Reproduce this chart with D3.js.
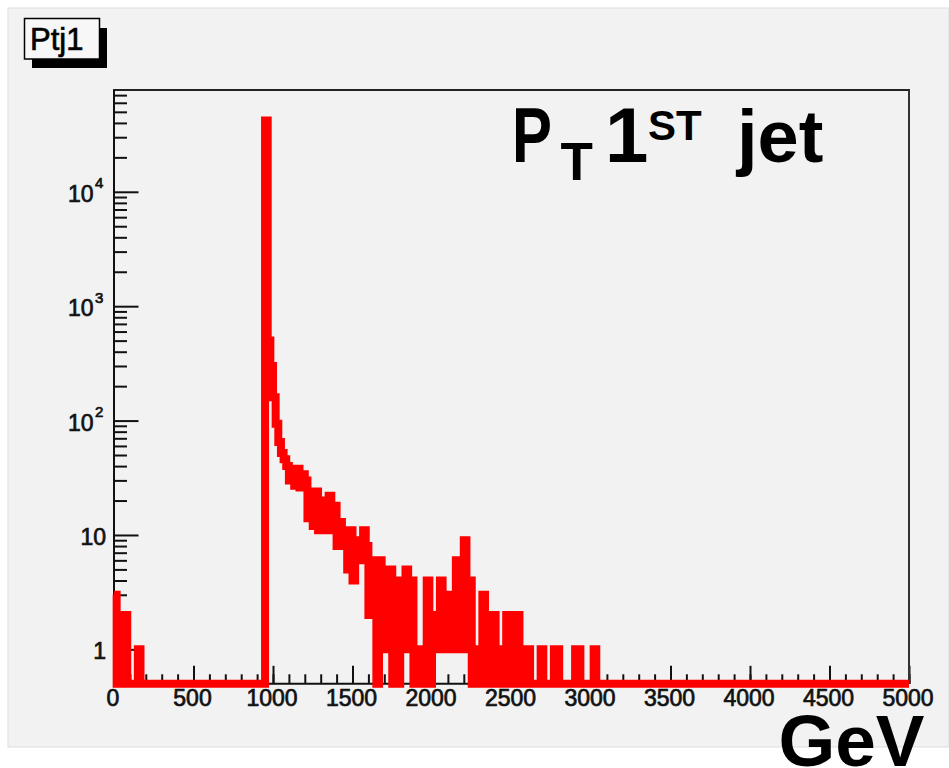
<!DOCTYPE html>
<html>
<head>
<meta charset="utf-8">
<script src="https://cdn.jsdelivr.net/npm/d3@7"></script>
<style>
  body { margin: 0; background: #ffffff; }
  svg { display: block; }
  text { font-family: "Liberation Sans", Arial, Helvetica, sans-serif; }
  .lab { stroke: #111; stroke-width: 0.7px; paint-order: stroke; }
</style>
</head>
<body>
<div id="chart"></div>
<script>
// histogram: 300 bins of 16.67 GeV between 0 and 5000 GeV
var xMin = 0, xMax = 5000, nBins = 300;

// counts of the first bins (starting at bin 0)
var lowStart = 0;
var lowCounts = [3, 0, 2, 0, 2, 0, 0, 0, 0, 1];

// counts from bin 57 (950 GeV) onwards, everything else is empty
var peakStart = 57;
var peakCounts = [
  42000, 500, 300, 160, 94, 65, 52, 46, 40, 30,
  36, 27, 38, 26, 34, 30, 14, 24, 12, 24,
  11, 20, 11, 20, 22, 11, 18, 8, 13, 8,
  11, 5, 11, 4, 9, 6, 6, 11, 8, 2,
  6, 6, 0, 6, 1, 5, 1, 5, 0, 4,
  0, 2, 1, 5, 1, 4, 0, 1, 0, 0,
  0, 4, 0, 2, 1, 1, 4, 1, 3, 1,
  3, 1, 6, 1, 5, 9, 1, 4, 0, 0,
  1, 0, 3, 0, 1, 0, 2, 0, 1, 0,
  0, 2, 0, 2, 0, 2, 0, 0, 0, 1,
  0, 0, 0, 0, 1, 0, 0, 0, 0, 1,
  1, 0, 0, 0, 0, 0, 0, 1, 1, 0,
  0, 0, 0, 0, 1
];

var yMin = 0.5, yMax = 77600;

var xTickLabels = [0, 500, 1000, 1500, 2000, 2500, 3000, 3500, 4000, 4500, 5000];
var yTickLabels = [1, 10, 100, 1000, 10000];

var svgWidth = 949;
var svgHeight = 768;

var frame = { left: 114, right: 909, top: 90, bottom: 683.8 };

var svg = d3.select("#chart")
  .append("svg")
  .attr("width", svgWidth)
  .attr("height", svgHeight);

// canvas / pad
svg.append("rect")
  .attr("x", 8).attr("y", 8)
  .attr("width", svgWidth - 8).attr("height", 739)
  .attr("fill", "#f2f2f2")
  .attr("stroke", "#dddddd")
  .attr("stroke-width", 1);

var x = d3.scaleLinear()
  .domain([xMin, xMax])
  .range([frame.left, frame.right]);

var y = d3.scaleLog()
  .domain([yMin, yMax])
  .range([frame.bottom, frame.top]);

// axes (ticks point into the frame)
var minorX = d3.range(xMin, xMax + 1, 100);
var majorY = yTickLabels.concat([]);
var minorY = [];
[-1, 0, 1, 2, 3, 4].forEach(function(e) {
  for (var m = 2; m <= 9; m++) {
    var v = m * Math.pow(10, e);
    if (v >= yMin && v <= yMax) minorY.push(v);
  }
});

function styleAxis(g) {
  g.select(".domain").remove();
  g.selectAll("line").attr("stroke", "#111").attr("stroke-width", 2);
}

svg.append("g")
  .attr("transform", `translate(0, ${frame.bottom})`)
  .call(d3.axisBottom(x).tickValues(minorX).tickSize(-9.5).tickFormat(""))
  .call(styleAxis);

var xAxis = svg.append("g")
  .attr("transform", `translate(0, ${frame.bottom})`)
  .call(d3.axisBottom(x).tickValues(xTickLabels).tickSize(-18).tickPadding(6).tickFormat(d3.format("d")))
  .call(styleAxis);

xAxis.selectAll("text")
  .attr("class", "lab")
  .attr("fill", "#111")
  .attr("dx", -1.5)
  .style("font-size", "23px")
  .style("font-family", "'Liberation Sans', Arial, sans-serif");

svg.append("g")
  .attr("transform", `translate(${frame.left}, 0)`)
  .call(d3.axisLeft(y).tickValues(minorY).tickSize(-13).tickFormat(""))
  .call(styleAxis);

svg.append("g")
  .attr("transform", `translate(${frame.left}, 0)`)
  .call(d3.axisLeft(y).tickValues(majorY).tickSize(-24.5).tickFormat(""))
  .call(styleAxis);

// y labels with powers of ten
var yLab = svg.append("g").attr("fill", "#111");
yTickLabels.forEach(function(v) {
  var e = Math.round(Math.log10(v));
  var ty = y(v);
  if (e <= 1) {
    yLab.append("text")
      .attr("class", "lab")
      .attr("x", 106).attr("y", ty + 10)
      .attr("text-anchor", "end")
      .style("font-size", "23px")
      .text(e === 0 ? "1" : "10");
  } else {
    yLab.append("text")
      .attr("class", "lab")
      .attr("x", 93.5).attr("y", ty + 10)
      .attr("text-anchor", "end")
      .style("font-size", "23px")
      .text("10");
    yLab.append("text")
      .attr("class", "lab")
      .attr("x", 95).attr("y", ty - 3.4)
      .style("font-size", "15px")
      .text(e);
  }
});

// frame border
svg.append("line")
  .attr("x1", frame.left - 1).attr("x2", frame.right + 1)
  .attr("y1", frame.top).attr("y2", frame.top)
  .attr("stroke", "#222").attr("stroke-width", 2);
svg.append("line")
  .attr("x1", frame.right).attr("x2", frame.right)
  .attr("y1", frame.top).attr("y2", frame.bottom)
  .attr("stroke", "#333").attr("stroke-width", 2);
svg.append("line")
  .attr("x1", frame.left).attr("x2", frame.left)
  .attr("y1", frame.top).attr("y2", frame.bottom)
  .attr("stroke", "#111").attr("stroke-width", 2);
svg.append("line")
  .attr("x1", frame.left).attr("x2", frame.right)
  .attr("y1", frame.bottom).attr("y2", frame.bottom)
  .attr("stroke", "#111").attr("stroke-width", 2);

// histogram outline
var counts = d3.range(nBins).map(function() { return 0; });
lowCounts.forEach(function(c, i) { counts[lowStart + i] = c; });
peakCounts.forEach(function(c, i) { counts[peakStart + i] = c; });

var binW = (xMax - xMin) / nBins;
var steps = counts.map(function(c, i) { return [xMin + i * binW, c]; });
steps.push([xMax, counts[nBins - 1]]);

var histLine = d3.line()
  .x(d => x(d[0]))
  .y(d => y(Math.max(d[1], yMin)))
  .curve(d3.curveStepAfter);

svg.append("path")
  .datum(steps)
  .attr("d", histLine)
  .attr("fill", "none")
  .attr("stroke", "#ff0000")
  .attr("stroke-width", 8)
  .attr("stroke-linejoin", "miter")
  .attr("stroke-linecap", "butt");

// title box
svg.append("rect")
  .attr("x", 32).attr("y", 28).attr("width", 75).attr("height", 40)
  .attr("fill", "#000");
svg.append("rect")
  .attr("x", 24.5).attr("y", 18.5).attr("width", 75).attr("height", 40.5)
  .attr("fill", "#f7f7f7").attr("stroke", "#000").attr("stroke-width", 1.5);
svg.append("text")
  .attr("class", "lab")
  .attr("x", 30).attr("y", 49.5)
  .style("font-size", "31px")
  .attr("fill", "#000")
  .text("Ptj1");

// big labels
var big = svg.append("g").attr("fill", "#000").style("font-weight", "bold");
big.append("text").attr("x", 512).attr("y", 161.7).style("font-size", "78px")
  .attr("textLength", 40).attr("lengthAdjust", "spacingAndGlyphs").text("P");
big.append("text").attr("x", 560.6).attr("y", 180).style("font-size", "53px").text("T");
big.append("text").attr("x", 605).attr("y", 161.7).style("font-size", "78px").text("1");
big.append("text").attr("x", 648).attr("y", 140).style("font-size", "42px").text("ST");
big.append("text").attr("x", 737).attr("y", 161.7).style("font-size", "74px").text("jet");
big.append("text").attr("x", 778.4).attr("y", 766).style("font-size", "73px").text("GeV");
</script>
</body>
</html>
